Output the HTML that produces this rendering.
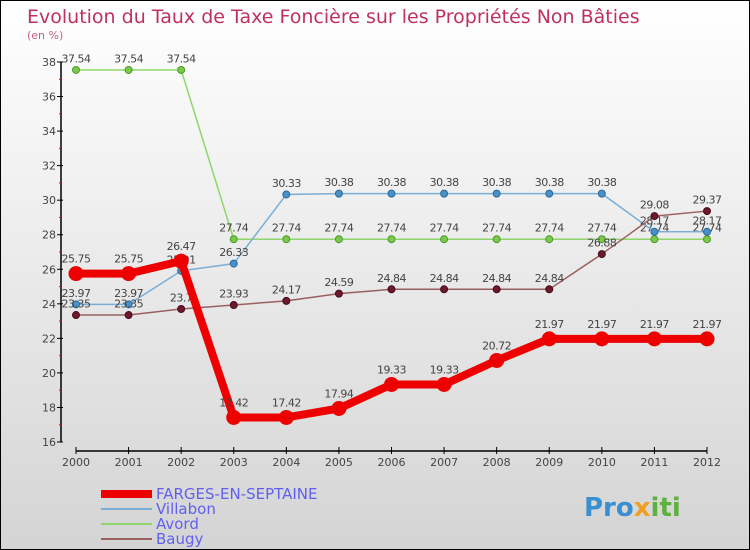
<!DOCTYPE html>
<html><head><meta charset="utf-8"><style>
body{margin:0}
#c{position:relative;width:748px;height:548px;border:1px solid #000;background:linear-gradient(#fff,#d4d4d4);font-family:"DejaVu Sans","Liberation Sans",sans-serif;overflow:hidden}
</style></head><body>
<div id="c">
<svg id="s" width="748" height="548" style="position:absolute;left:0;top:0">
<text x="26" y="22" font-size="19" fill="#c0305f">Evolution du Taux de Taxe Foncière sur les Propriétés Non Bâties</text>
<text x="26" y="38" font-size="11" fill="#c0608a">(en %)</text>
<g id="axes"></g><g id="series"></g>
<text x="155" y="498" font-size="15" fill="#6060f0">FARGES-EN-SEPTAINE</text>
<text x="155" y="513" font-size="15" fill="#6060f0">Villabon</text>
<text x="155" y="528" font-size="15" fill="#6060f0">Avord</text>
<text x="155" y="543" font-size="15" fill="#6060f0">Baugy</text>
<rect x="100" y="489" width="51" height="8" fill="#e00"/>
<rect x="100" y="507" width="51" height="2" fill="#7aaed6"/>
<rect x="100" y="522" width="51" height="2" fill="#8fd66a"/>
<rect x="100" y="537" width="51" height="2" fill="#9a6060"/>
<text x="583" y="515" font-size="26" font-weight="bold" fill="#3a8fd0">Pro<tspan fill="#f0a020">x</tspan><tspan fill="#60b040">iti</tspan></text>
</svg></div>
<script>
const years=[2000,2001,2002,2003,2004,2005,2006,2007,2008,2009,2010,2011,2012];
const yTicks=[16,18,20,22,24,26,28,30,32,34,36,38];
const farges=[25.75,25.75,26.47,17.42,17.42,17.94,19.33,19.33,20.72,21.97,21.97,21.97,21.97];
const villabon=[23.97,23.97,25.91,26.33,30.33,30.38,30.38,30.38,30.38,30.38,30.38,28.17,28.17];
const avord=[37.54,37.54,37.54,27.74,27.74,27.74,27.74,27.74,27.74,27.74,27.74,27.74,27.74];
const baugy=[23.35,23.35,23.7,23.93,24.17,24.59,24.84,24.84,24.84,24.84,26.88,29.08,29.37];
const NS="http://www.w3.org/2000/svg";
const x=i=>75+i*(706-75)/(years.length-1);
const y=v=>441-(v-16)*(441-61)/22;
function mk(t,a,p){const e=document.createElementNS(NS,t);for(const k in a)e.setAttribute(k,a[k]);p.appendChild(e);return e;}
const ax=document.getElementById('axes'),sg=document.getElementById('series');
let l=mk('line',{x1:60,y1:y(38),x2:60,y2:y(16),stroke:'#000','stroke-width':1.5},ax);


l=mk('line',{x1:x(0),y1:450,x2:x(12),y2:450,stroke:'#000','stroke-width':1.5},ax);


yTicks.forEach(v=>{
 mk('line',{x1:56,y1:y(v),x2:62,y2:y(v),stroke:'#000'},ax);
 if(v<38)mk('line',{x1:58,y1:y(v+1),x2:61,y2:y(v+1),stroke:'#e00'},ax);
 const t=mk('text',{x:55,y:y(v)+4,'font-size':11,fill:'#444','text-anchor':'end'},ax);t.textContent=v;
 
 
});
years.forEach((yr,i)=>{
 mk('line',{x1:x(i),y1:446,x2:x(i),y2:453,stroke:'#000'},ax);
 const t=mk('text',{x:x(i),y:465,'font-size':11,fill:'#444','text-anchor':'middle'},ax);t.textContent=yr;
 
 
});
function draw(name,vals,col,w,r,dot,dotStroke){
 const g=mk('g',{},sg);
 
 
 mk('polyline',{points:vals.map((v,i)=>x(i)+','+y(v)).join(' '),fill:'none',stroke:col,'stroke-width':w,'stroke-linejoin':'round'},g);
 vals.forEach((v,i)=>{
  const c=mk('circle',{cx:x(i),cy:y(v),r:r,fill:dot,stroke:dotStroke},g);
  
  
  const t=mk('text',{x:x(i),y:y(v)-r-4,'font-size':11,fill:'#444','text-anchor':'middle','letter-spacing':'-0.5'},g);t.textContent=v;
  
  
 });
}
draw('avord',avord,'#8fd66a',1.5,3.5,'#7cc84a','#4a9a2a');
draw('villabon',villabon,'#7aaed6',1.5,3.5,'#4a90c8','#2a6a9a');
draw('baugy',baugy,'#9a6060',1.5,3.5,'#6a1a2a','#4a0a1a');
draw('farges',farges,'#ee0000',8,7,'#ee0000','#ee0000');
</script>
</body></html>
